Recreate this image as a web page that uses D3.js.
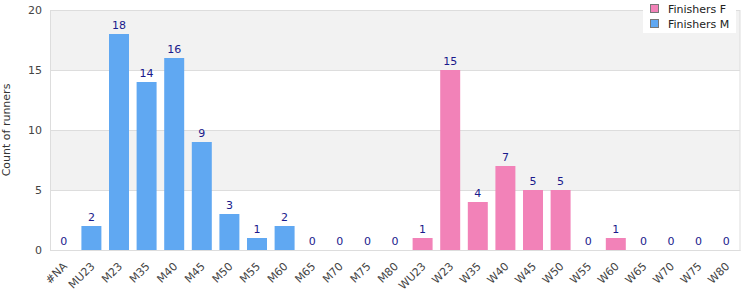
<!DOCTYPE html>
<html>
<head>
<meta charset="utf-8">
<script src="https://cdn.jsdelivr.net/npm/d3@7"></script>
<style>
  body { margin: 0; background: #fff; }
  svg { font-family: "DejaVu Sans", sans-serif; }
</style>
</head>
<body>
<svg width="750" height="300"></svg>
<script>
const categories = ["#NA", "MU23", "M23", "M35", "M40", "M45", "M50", "M55", "M60", "M65", "M70", "M75", "M80",
    "WU23", "W23", "W35", "W40", "W45", "W50", "W55", "W60", "W65", "W70", "W75", "W80"];
// which series each category belongs to
const seriesOf = ["M", "M", "M", "M", "M", "M", "M", "M", "M", "M", "M", "M", "M",
    "F", "F", "F", "F", "F", "F", "F", "F", "F", "F", "F", "F"];
const counts = [0, 2, 18, 14, 16, 9, 3, 1, 2, 0, 0, 0, 0,
    1, 15, 4, 7, 5, 5, 0, 1, 0, 0, 0, 0];
const yTicks = [0, 5, 10, 15, 20];
const legendLabels = ["Finishers F", "Finishers M"];

const colors = { F: "#f282b8", M: "#60a8f2" };

const margin = { top: 10, right: 10, bottom: 50, left: 50 };
const width = 750 - margin.left - margin.right;
const height = 300 - margin.top - margin.bottom;

const svg = d3.select("svg");
const chart = svg.append("g")
    .attr("transform", `translate(${margin.left}, ${margin.top})`);

const x = d3.scaleBand()
    .domain(categories)
    .range([0, width])
    .paddingInner(0.276)
    .paddingOuter(0.138);

const y = d3.scaleLinear()
    .domain([0, 20])
    .range([height, 0]);

// alternating bands
for (let i = 0; i < yTicks.length - 1; i++) {
    chart.append("rect")
        .attr("x", 0)
        .attr("y", y(yTicks[i + 1]))
        .attr("width", width)
        .attr("height", y(yTicks[i]) - y(yTicks[i + 1]))
        .attr("fill", i % 2 === 1 ? "#f2f2f2" : "#fff");
}

// grid lines
chart.selectAll(".grid")
    .data(yTicks)
    .enter().append("line")
    .attr("x1", 0).attr("x2", width)
    .attr("y1", d => y(d) + 0.5).attr("y2", d => y(d) + 0.5)
    .attr("stroke", "#ddd");

// frame
chart.append("rect")
    .attr("x", 0.5).attr("y", 0.5)
    .attr("width", width - 0.5).attr("height", height)
    .attr("fill", "none")
    .attr("stroke", "#ddd");

// y axis labels
chart.append("g")
    .call(d3.axisLeft(y).tickValues(yTicks).tickSize(0).tickPadding(8))
    .call(g => g.select(".domain").remove())
    .selectAll("text")
    .attr("font-size", 11)
    .attr("font-family", "DejaVu Sans, sans-serif")
    .attr("fill", "#444");

svg.append("text")
    .attr("transform", `translate(10, ${margin.top + height / 2}) rotate(-90)`)
    .attr("text-anchor", "middle")
    .attr("font-size", 11)
    .attr("fill", "#333")
    .text("Count of runners");

// x axis
const xAxis = chart.append("g")
    .attr("transform", `translate(0, ${height})`)
    .call(d3.axisBottom(x).tickSize(0).tickPadding(6));
xAxis.select(".domain").attr("stroke", "#ddd");
xAxis.selectAll("text")
    .attr("font-size", 11)
    .attr("font-family", "DejaVu Sans, sans-serif")
    .attr("fill", "#444")
    .attr("text-anchor", "end")
    .attr("dy", "0.35em")
    .attr("transform", "translate(-3, 10) rotate(-45)");

// bars
chart.selectAll(".bar")
    .data(categories)
    .enter().append("rect")
    .attr("x", d => x(d))
    .attr("y", (d, i) => y(counts[i]))
    .attr("width", x.bandwidth())
    .attr("height", (d, i) => height - y(counts[i]))
    .attr("fill", (d, i) => colors[seriesOf[i]]);

// value labels
chart.selectAll(".val")
    .data(categories)
    .enter().append("text")
    .attr("x", d => x(d) + x.bandwidth() / 2)
    .attr("y", (d, i) => y(counts[i]) - 5)
    .attr("text-anchor", "middle")
    .attr("font-size", 11)
    .attr("fill", "#1a1a8c")
    .text((d, i) => counts[i]);

// legend
const legend = svg.append("g").attr("transform", "translate(643, 0)");
legend.append("rect")
    .attr("width", 93).attr("height", 33)
    .attr("fill", "#fff");
const legendKeys = ["F", "M"];
legendLabels.forEach((label, i) => {
    legend.append("rect")
        .attr("x", 7.5).attr("y", 4.5 + i * 15)
        .attr("width", 8).attr("height", 8)
        .attr("fill", colors[legendKeys[i]])
        .attr("stroke", "#777");
    legend.append("text")
        .attr("x", 25).attr("y", 13 + i * 15)
        .attr("font-size", 11)
        .attr("fill", "#222")
        .text(label);
});
</script>
</body>
</html>
